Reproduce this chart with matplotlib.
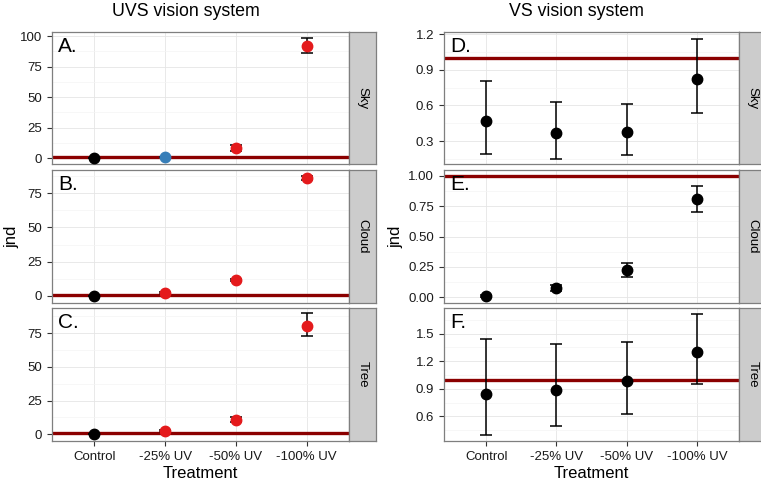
import matplotlib.pyplot as plt
from matplotlib.ticker import FixedLocator, FormatStrFormatter

plt.rcParams['font.family'] = ['Liberation Sans', 'DejaVu Sans']

treatments = ['Control', '-25% UV', '-50% UV', '-100% UV']
backgrounds = ['Sky', 'Cloud', 'Tree']

# UVS vision system (jnd)
uvs_sky_mean = [0.3, 1.1, 8.6, 91.8]
uvs_sky_lo = [0.3, 1.1, 6.4, 85.8]
uvs_sky_hi = [0.3, 1.1, 10.8, 98.8]
uvs_sky_colors = ['black', 'blue', 'red', 'red']

uvs_cloud_mean = [-0.3, 2.2, 11.4, 85.7]
uvs_cloud_lo = [-0.3, 1.6, 10.6, 84.2]
uvs_cloud_hi = [-0.3, 2.8, 12.2, 87.2]
uvs_cloud_colors = ['black', 'red', 'red', 'red']

uvs_tree_mean = [0.5, 2.7, 10.9, 80.6]
uvs_tree_lo = [0.5, 2.0, 8.9, 73.0]
uvs_tree_hi = [0.5, 3.4, 12.9, 89.8]
uvs_tree_colors = ['black', 'red', 'red', 'red']

# VS vision system (jnd)
vs_sky_mean = [0.469, 0.365, 0.376, 0.825]
vs_sky_lo = [0.193, 0.148, 0.179, 0.534]
vs_sky_hi = [0.809, 0.627, 0.616, 1.163]

vs_cloud_mean = [0.013, 0.079, 0.225, 0.808]
vs_cloud_lo = [0.006, 0.055, 0.167, 0.706]
vs_cloud_hi = [0.020, 0.103, 0.285, 0.918]

vs_tree_mean = [0.843, 0.887, 0.981, 1.297]
vs_tree_lo = [0.394, 0.496, 0.628, 0.953]
vs_tree_hi = [1.442, 1.391, 1.406, 1.710]

threshold = 1.0

palette = {'black': '#000000', 'blue': '#377EB8', 'red': '#E41A1C'}

W, H = 761, 482
fig = plt.figure(figsize=(W / 100, H / 100), dpi=100)


def rect(x0, y0, x1, y1):
    return [x0 / W, 1 - y1 / H, (x1 - x0) / W, (y1 - y0) / H]


rows = [(32, 164), (170, 303), (308, 441)]


def panel(x0, x1, sx1, row, mean, lo, hi, colors, ylim, ticks, fmt, letter, strip, bottom):
    y0, y1 = rows[row]
    ax = fig.add_axes(rect(x0, y0, x1, y1))
    xs = range(len(treatments))
    ax.set_xlim(-0.6, len(treatments) - 0.4)
    ax.set_ylim(*ylim)
    minors = [(a + b) / 2 for a, b in zip(ticks[:-1], ticks[1:])]
    step = ticks[1] - ticks[0]
    minors = [ticks[0] - step / 2] + minors + [ticks[-1] + step / 2]
    ax.yaxis.set_major_locator(FixedLocator(ticks))
    ax.yaxis.set_minor_locator(FixedLocator(minors))
    ax.yaxis.set_major_formatter(FormatStrFormatter(fmt))
    ax.set_xticks(list(xs))
    ax.grid(True, which='major', color='#E5E5E5', lw=0.6, zorder=0)
    ax.grid(True, which='minor', axis='y', color='#F4F4F4', lw=0.5, zorder=0)
    ax.set_axisbelow(True)
    ax.axhline(threshold, color='#8B0000', lw=2.4, zorder=2)
    for i in xs:
        c = palette[colors[i]]
        ax.errorbar(i, mean[i], yerr=[[mean[i] - lo[i]], [hi[i] - mean[i]]],
                    fmt='o', color=c, ecolor='black', elinewidth=1.1, capsize=4,
                    capthick=1.1, markersize=7.5, zorder=3)
    for s in ax.spines.values():
        s.set_color('#7F7F7F')
        s.set_linewidth(0.9)
    ax.tick_params(axis='both', which='major', direction='out', length=3.5,
                   color='#333333', labelsize=9.5, labelcolor='#1a1a1a', width=0.8)
    ax.tick_params(axis='y', which='minor', length=0)
    if bottom:
        ax.set_xticklabels(treatments)
    else:
        ax.tick_params(axis='x', length=0, labelbottom=False)
    ax.text(0.02, 0.965, letter, transform=ax.transAxes, ha='left', va='top',
            fontsize=15)
    sax = fig.add_axes(rect(x1, y0, sx1, y1))
    sax.set_facecolor('#CCCCCC')
    sax.set_xticks([])
    sax.set_yticks([])
    for s in sax.spines.values():
        s.set_color('#7F7F7F')
        s.set_linewidth(0.9)
    sax.text(0.5, 0.5, strip, rotation=-90, ha='center', va='center',
             fontsize=9.5, transform=sax.transAxes)
    return ax


uvs_means = [uvs_sky_mean, uvs_cloud_mean, uvs_tree_mean]
uvs_los = [uvs_sky_lo, uvs_cloud_lo, uvs_tree_lo]
uvs_his = [uvs_sky_hi, uvs_cloud_hi, uvs_tree_hi]
uvs_cols = [uvs_sky_colors, uvs_cloud_colors, uvs_tree_colors]
uvs_ylims = [(-4.6, 103.3), (-5.1, 91.8), (-5.0, 93.8)]
uvs_ticks = [[0, 25, 50, 75, 100], [0, 25, 50, 75], [0, 25, 50, 75]]

vs_means = [vs_sky_mean, vs_cloud_mean, vs_tree_mean]
vs_los = [vs_sky_lo, vs_cloud_lo, vs_tree_lo]
vs_his = [vs_sky_hi, vs_cloud_hi, vs_tree_hi]
vs_ylims = [(0.106, 1.22), (-0.047, 1.049), (0.331, 1.78)]
vs_ticks = [[0.3, 0.6, 0.9, 1.2], [0.0, 0.25, 0.5, 0.75, 1.0], [0.6, 0.9, 1.2, 1.5]]
vs_fmts = ['%.1f', '%.2f', '%.1f']

for r in range(3):
    panel(52, 349, 376, r, uvs_means[r], uvs_los[r], uvs_his[r], uvs_cols[r],
          uvs_ylims[r], uvs_ticks[r], '%d', 'ABC'[r] + '.', backgrounds[r], r == 2)
    panel(444, 739, 766, r, vs_means[r], vs_los[r], vs_his[r], ['black'] * 4,
          vs_ylims[r], vs_ticks[r], vs_fmts[r], 'DEF'[r] + '.', backgrounds[r], r == 2)

fig.text(186 / W, 1 - 12 / H, 'UVS vision system', ha='center', va='center', fontsize=12.8)
fig.text(576 / W, 1 - 12 / H, 'VS vision system', ha='center', va='center', fontsize=12.8)
fig.text(200 / W, 1 - 473 / H, 'Treatment', ha='center', va='center', fontsize=12)
fig.text(591 / W, 1 - 473 / H, 'Treatment', ha='center', va='center', fontsize=12)
fig.text(12 / W, 1 - 237 / H, 'jnd', ha='center', va='center', rotation=90, fontsize=12)
fig.text(396 / W, 1 - 237 / H, 'jnd', ha='center', va='center', rotation=90, fontsize=12)

fig.savefig('out.png', dpi=100)
